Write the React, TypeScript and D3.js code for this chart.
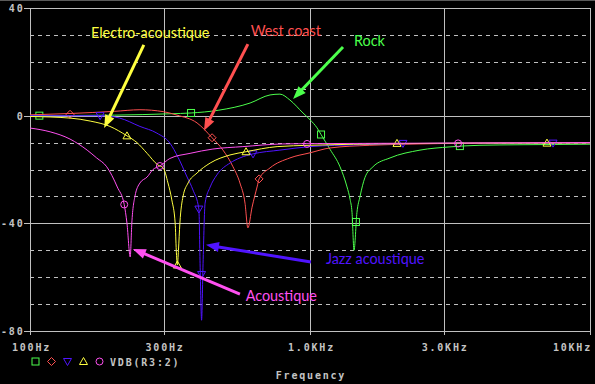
import React from 'react';
import * as d3 from 'd3';

type Pt = [number, number];

// frequency (Hz), level (dB)
const rock: Pt[] = [
  [100, 0], [200, 0.2], [316, 0.7], [376, 1], [470, 2], [611, 4.7], [720, 7.7], [781, 8],
  [848, 5.8], [944, 1], [1000, -1.5], [1059, -4.5], [1095, -7], [1179, -12.5], [1280, -19],
  [1356, -26.5], [1390, -31], [1413, -36], [1436, -50], [1471, -36], [1509, -30], [1571, -23],
  [1678, -19], [1931, -15.7], [2471, -12.8], [3162, -11.6], [4047, -11], [5623, -10.8], [10000, -10.6],
];
const rockMarkers: Pt[] = [[108, 0], [376, 1], [1095, -7], [1459, -39.5], [3430, -11.3]];

const westCoast: Pt[] = [
  [100, 0.3], [139, 0.8], [200, 1.6], [247, 2.2], [299, 1.5], [335, 0.2], [395, -2.7],
  [447, -8.2], [489, -12.8], [531, -19], [562, -25], [586, -32.5], [600, -41.7], [621, -34],
  [647, -26.5], [658, -23.5], [720, -19.4], [848, -15.7], [1000, -13.8], [1179, -12],
  [1636, -11], [2471, -10.5], [4000, -10.2], [10000, -10.1],
];
const westCoastMarkers: Pt[] = [[139, 0.5], [447, -8.2], [658, -23.5]];

const jazz: Pt[] = [
  [100, 0], [178, 0], [209, -0.9], [247, -4], [284, -6.5], [316, -10.2], [338, -15.5],
  [364, -22.8], [382, -27.6], [401, -34.7], [405, -55], [410, -76], [415, -55], [422, -32.5],
  [440, -26.5], [465, -22], [518, -17.6], [562, -15.7], [626, -14.2], [781, -12.8],
  [1000, -11.5], [1500, -10.8], [2148, -10.4], [4000, -10.2], [10000, -10.1],
];
const jazzMarkers: Pt[] = [[178, 0], [401, -34.7], [410, -59], [626, -14.2], [2148, -10.3], [7380, -10.2]];

const electro: Pt[] = [
  [100, -0.3], [139, -0.9], [164, -2], [193, -4], [222, -7.5], [241, -10], [262, -14],
  [286, -18.3], [299, -19.4], [311, -25], [321, -31.3], [330, -40], [333, -50], [336, -55.5],
  [339, -50], [343, -40], [352, -30], [367, -25], [395, -21.3], [440, -17.6], [518, -14.6],
  [591, -13.4], [763, -11.5], [1000, -11], [2045, -10.4], [4000, -10.2], [10000, -10.1],
];
const electroMarkers: Pt[] = [[222, -7.5], [336, -55.5], [591, -13.4], [2045, -10.3], [7020, -10.2]];

const acoustic: Pt[] = [
  [100, -4.6], [118, -6], [139, -8.7], [160, -12.8], [173, -15.7], [188, -19], [205, -26.5],
  [217, -33], [222, -40], [228, -52.5], [231, -40], [237, -30], [247, -25], [262, -22.8],
  [275, -20], [291, -18.7], [316, -15.9], [373, -14], [450, -12.4], [576, -11.5], [800, -10.5],
  [1000, -10.4], [3000, -10.2], [10000, -10],
];
const acousticMarkers: Pt[] = [[217, -33], [291, -18.7], [976, -10.5], [3380, -10.3]];

const xTicks = [100, 300, 1000, 3000, 10000];
const xTickLabels = ['100Hz', '300Hz', '1.0KHz', '3.0KHz', '10KHz'];
const yTicks = [40, 0, -40, -80];
const yDashed = [30, 20, 10, -10, -20, -30, -50, -60, -70];

const series = [
  { data: rock, markers: rockMarkers, color: '#4cff4c', shape: 'square' },
  { data: westCoast, markers: westCoastMarkers, color: '#ff5050', shape: 'diamond' },
  { data: jazz, markers: jazzMarkers, color: '#5014ff', shape: 'triDown' },
  { data: electro, markers: electroMarkers, color: '#ffff40', shape: 'triUp' },
  { data: acoustic, markers: acousticMarkers, color: '#ff50f0', shape: 'circle' },
];

const annotations = [
  { text: 'Electro-acoustique', color: '#ffff40', at: [165, 29] as Pt, from: [255, 26.3] as Pt, to: [184, -4.6] as Pt },
  { text: 'West coast', color: '#ff5050', at: [614, 29.7] as Pt, from: [600, 26.6] as Pt, to: [418, -5.6] as Pt },
  { text: 'Rock', color: '#4cff4c', at: [1436, 26] as Pt, from: [1312, 25.5] as Pt, to: [870, 6.2] as Pt },
  { text: 'Jazz acoustique', color: '#5014ff', at: [1140, -55.1] as Pt, from: [1008, -54.4] as Pt, to: [425, -48] as Pt },
  { text: 'Acoustique', color: '#ff50f0', at: [589, -68.9] as Pt, from: [562, -66.3] as Pt, to: [233, -49.5] as Pt },
];

function Marker({ shape, cx, cy, color }: { shape: string; cx: number; cy: number; color: string }) {
  const common = { fill: 'none', stroke: color, strokeWidth: 1 };
  if (shape === 'square') return <rect x={cx - 3.5} y={cy - 3.5} width={7} height={7} {...common} />;
  if (shape === 'circle') return <circle cx={cx} cy={cy} r={3.5} {...common} />;
  const paths: Record<string, string> = {
    diamond: 'M0,-4L4,0L0,4L-4,0Z',
    triDown: 'M-4,-3L4,-3L0,4Z',
    triUp: 'M-4,3L4,3L0,-4Z',
  };
  return <path d={paths[shape]} transform={`translate(${cx},${cy})`} {...common} />;
}

const tickFont = {
  fontFamily: '"DejaVu Sans Mono", monospace',
  fontWeight: 'bold' as const,
  fontSize: 10,
  letterSpacing: 1.8,
  fill: '#c4c4c4',
};

export default function App() {
  const width = 595;
  const height = 384;
  const x = d3.scaleLog().domain([100, 10000]).range([30, 590]);
  const y = d3.scaleLinear().domain([-80, 40]).range([331, 8]);
  const line = d3.line<Pt>().x(d => x(d[0])).y(d => y(d[1])).curve(d3.curveMonotoneX);
  const grid = '#c0c0c0';

  return (
    <svg width={width} height={height} style={{ position: 'fixed', left: 0, top: 0, background: '#000' }}>
      <rect width={width} height={height} fill="#000" />
      <line x1={0} x2={width} y1={0.5} y2={0.5} stroke="#5a5a5a" />

      {/* dashed grid */}
      {yDashed.map(v => (
        <line key={v} x1={30} x2={590} y1={Math.round(y(v)) + 0.5} y2={Math.round(y(v)) + 0.5}
          stroke={grid} strokeDasharray="4,4" shapeRendering="crispEdges" />
      ))}
      {/* solid grid */}
      {[0, -40].map(v => (
        <line key={v} x1={30} x2={590} y1={Math.round(y(v)) + 0.5} y2={Math.round(y(v)) + 0.5}
          stroke={grid} shapeRendering="crispEdges" />
      ))}
      {[300, 1000, 3000].map(v => (
        <line key={v} x1={Math.round(x(v)) + 0.5} x2={Math.round(x(v)) + 0.5} y1={8} y2={331}
          stroke={grid} shapeRendering="crispEdges" />
      ))}
      <rect x={30.5} y={8.5} width={560} height={323} fill="none" stroke={grid} shapeRendering="crispEdges" />

      {/* ticks */}
      {xTicks.map(v => (
        <line key={v} x1={Math.round(x(v)) + 0.5} x2={Math.round(x(v)) + 0.5} y1={331} y2={335}
          stroke={grid} shapeRendering="crispEdges" />
      ))}
      {yTicks.map(v => (
        <line key={v} x1={24} x2={30} y1={Math.round(y(v)) + 0.5} y2={Math.round(y(v)) + 0.5}
          stroke={grid} shapeRendering="crispEdges" />
      ))}
      {xTicks.map((v, i) => (
        <text key={v} x={i === xTicks.length - 1 ? 592 : x(v) + 1.5} y={350.5}
          textAnchor={i === xTicks.length - 1 ? 'end' : 'middle'} style={tickFont}>
          {xTickLabels[i]}
        </text>
      ))}
      {yTicks.map(v => (
        <text key={v} x={24.5} y={y(v) + 4} textAnchor="end" style={tickFont}>{v}</text>
      ))}

      {/* traces */}
      {series.map((s, i) => (
        <g key={i}>
          <path d={line(s.data) || ''} fill="none" stroke={s.color} strokeWidth={1} />
          {s.markers.map((m, j) => (
            <Marker key={j} shape={s.shape} cx={x(m[0])} cy={y(m[1])} color={s.color} />
          ))}
        </g>
      ))}

      {/* annotations */}
      {annotations.map((a, i) => {
        const x1 = x(a.from[0]), y1 = y(a.from[1]);
        const x2 = x(a.to[0]), y2 = y(a.to[1]);
        const len = Math.hypot(x2 - x1, y2 - y1);
        const ux = (x2 - x1) / len, uy = (y2 - y1) / len;
        const hl = 13, hw = 5;
        const bx = x2 - ux * hl, by = y2 - uy * hl;
        const head = `M${x2},${y2}L${bx - uy * hw},${by + ux * hw}L${bx + uy * hw},${by - ux * hw}Z`;
        return (
          <g key={i}>
            <line x1={x1} y1={y1} x2={bx + ux * 2} y2={by + uy * 2} stroke={a.color} strokeWidth={3} />
            <path d={head} fill={a.color} />
            <text x={x(a.at[0])} y={y(a.at[1])} fill={a.color}
              style={{ fontFamily: 'Lato, sans-serif', fontSize: 14.4 }}>{a.text}</text>
          </g>
        );
      })}

      {/* legend */}
      {series.map((s, i) => (
        <Marker key={i} shape={s.shape} cx={35.5 + i * 16} cy={361.5} color={s.color} />
      ))}
      <text x={110} y={365.5} style={tickFont}>VDB(R3:2)</text>
      <text x={311} y={379} textAnchor="middle" style={tickFont}>Frequency</text>
    </svg>
  );
}
